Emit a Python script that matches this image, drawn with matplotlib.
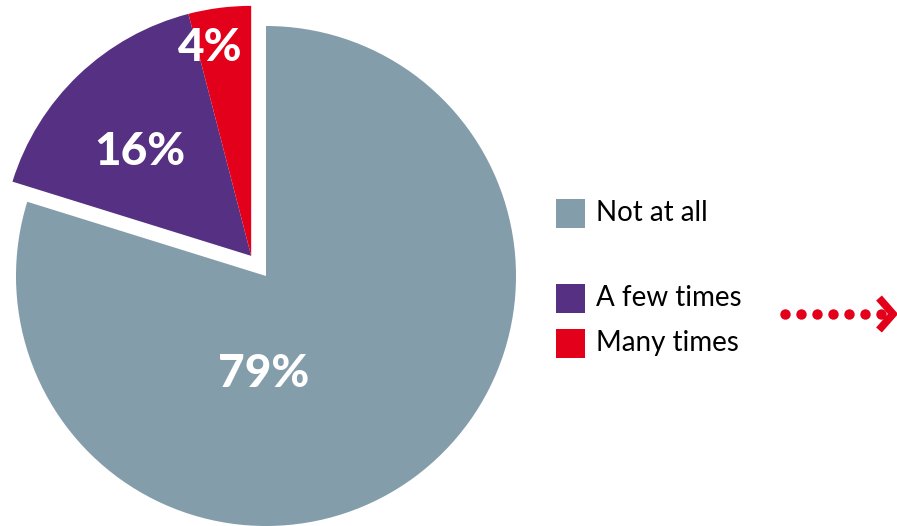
import math
import matplotlib.pyplot as plt
from matplotlib.patches import Rectangle

# datos del grafico
categorias = ['Not at all', 'A few times', 'Many times']
porcentajes = [79, 16, 4]
colores = ['#849dab', '#563183', '#e2001a']
separados = [False, True, True]   # porciones desplazadas juntas

# posicion de cada etiqueta de porcentaje (pixeles)
pos_etiquetas = [(264, 152), (140, 374), (210, 478)]
# posicion vertical de cada entrada de la leyenda (pixeles, centro del cuadro)
pos_leyenda = [313, 228, 183]

W, H = 897, 526
centro = (266, 250)
radio = 250
desplazamiento = 25

fig = plt.figure(figsize=(W / 100, H / 100), dpi=100)
ax = fig.add_axes([0, 0, 1, 1])

# tarta principal: empieza arriba y gira en sentido horario
wedges, _ = ax.pie(porcentajes, colors=colores, startangle=90,
                   counterclock=False, radius=radio, center=centro,
                   wedgeprops=dict(linewidth=0))

# mover el grupo separado con un mismo vector
total = sum(porcentajes)
grupo = sum(p for p, s in zip(porcentajes, separados) if s)
ang = math.radians(90 + 360 * grupo / total / 2)
dx, dy = desplazamiento * math.cos(ang), desplazamiento * math.sin(ang)
for w, s in zip(wedges, separados):
    if s:
        w.set_center((centro[0] + dx, centro[1] + dy))

ax.set_xlim(0, W)
ax.set_ylim(0, H)
ax.set_aspect('equal')
ax.axis('off')

# etiquetas de porcentaje
for (x, y), p in zip(pos_etiquetas, porcentajes):
    ax.text(x, y, f'{p}%', color='white', fontsize=33, fontweight='black',
            family='Lato', ha='center', va='center')

# leyenda hecha a mano
for cat, col, y in zip(categorias, colores, pos_leyenda):
    ax.add_patch(Rectangle((556, y - 14.5), 29, 29, color=col, linewidth=0))
    ax.text(596, y, cat, fontsize=20, family='Lato', color='black',
            ha='left', va='center')

# flecha punteada
puntos_x = [785 + 16 * i for i in range(7)]
ax.plot(puntos_x, [212] * len(puntos_x), 'o', color='#e2001a', markersize=7.5,
        markeredgewidth=0)
ax.plot([879, 893, 879], [228, 212, 196], color='#e2001a', linewidth=5.5,
        solid_joinstyle='miter', solid_capstyle='butt', clip_on=False)

fig.savefig('out.png', dpi=100)
